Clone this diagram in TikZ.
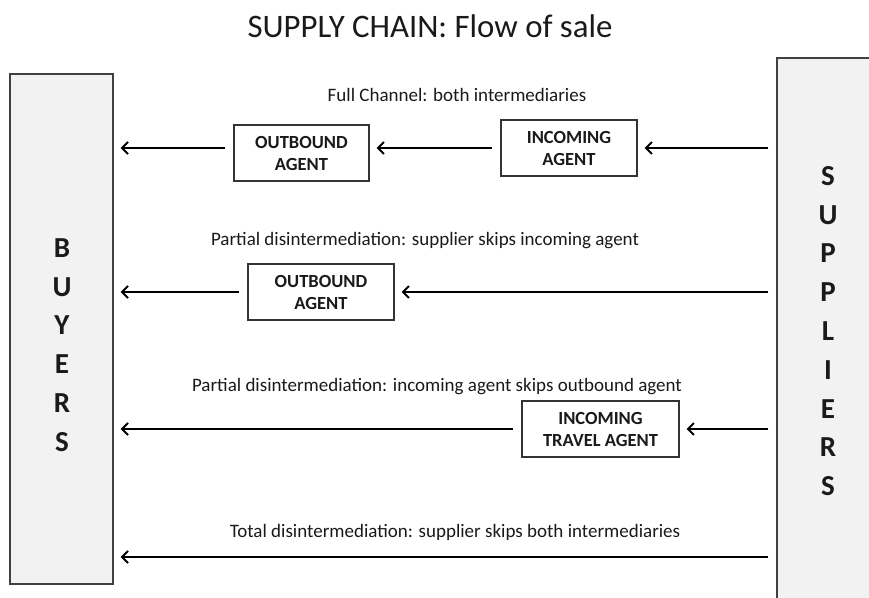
\documentclass[tikz,border=0pt]{standalone}
\usepackage{fontspec}
\setmainfont{Carlito}
\usetikzlibrary{arrows.meta}
\definecolor{panel}{HTML}{F2F2F2}
\definecolor{ink}{HTML}{1A1A1A}
\begin{document}
\begin{tikzpicture}[x=1pt,y=-1pt,
  side/.style={draw=black!75, line width=1.3pt, fill=panel, inner sep=0pt},
  agent/.style={draw=black!80, line width=1.1pt, fill=white, text=ink,
    font=\bfseries\fontsize{18.5}{22}\selectfont, align=center, inner sep=0pt},
  caption/.style={font=\fontsize{19}{23}\selectfont, text=ink, anchor=base},
  arr/.style={line width=2.4pt, shorten <=8pt, shorten >=7pt,
    -{Straight Barb[length=6pt,width=12pt,line width=2pt]}},
  vert/.style={font=\bfseries\fontsize{29}{38.8}\selectfont, align=center,
    inner sep=0pt, text=ink}]
\clip (0,0) rectangle (869,597);
\fill[white] (0,0) rectangle (869,597);

\node[font=\fontsize{32.8}{38}\selectfont, anchor=base, text=ink] (title) at (430,37) {SUPPLY CHAIN: Flow of sale};

\node[side, minimum width=103pt, minimum height=510pt] (buy) at (61.5,329) {};
\node[vert] (buytext) at (62,345) {B\\U\\Y\\E\\R\\S};
\node[side, minimum width=103pt, minimum height=562pt] (sup) at (828.5,339) {};
\node[vert] (suptext) at (828,331) {S\\U\\P\\P\\L\\I\\E\\R\\S};

% row 1
\node[caption] (c1) at (457,101) {Full Channel: both intermediaries};
\node[agent, minimum width=135pt, minimum height=56pt] (out1) at (301.5,153) {OUTBOUND\\AGENT};
\node[agent, minimum width=136pt, minimum height=56pt] (inc1) at (569,148) {INCOMING\\AGENT};
\draw[arr] (out1.west |- inc1.west) -- (buy.east |- inc1.west);
\draw[arr] (inc1.west) -- (out1.east |- inc1.west);
\draw[arr] (sup.west |- inc1.east) -- (inc1.east);

% row 2
\node[caption] (c2) at (425,245) {Partial disintermediation: supplier skips incoming agent};
\node[agent, minimum width=146pt, minimum height=56pt] (out2) at (321,292) {OUTBOUND\\AGENT};
\draw[arr] (out2.west) -- (buy.east |- out2.west);
\draw[arr] (sup.west |- out2.east) -- (out2.east);

% row 3
\node[caption] (c3) at (437,391) {Partial disintermediation: incoming agent skips outbound agent};
\node[agent, minimum width=157pt, minimum height=56pt] (inc3) at (600.5,429) {INCOMING\\TRAVEL AGENT};
\draw[arr] (inc3.west) -- (buy.east |- inc3.west);
\draw[arr] (sup.west |- inc3.east) -- (inc3.east);

% row 4
\node[caption] (c4) at (455,537) {Total disintermediation: supplier skips both intermediaries};
\coordinate (r4) at (0,557);
\draw[arr] (sup.west |- r4) -- (buy.east |- r4);
\end{tikzpicture}
\end{document}
